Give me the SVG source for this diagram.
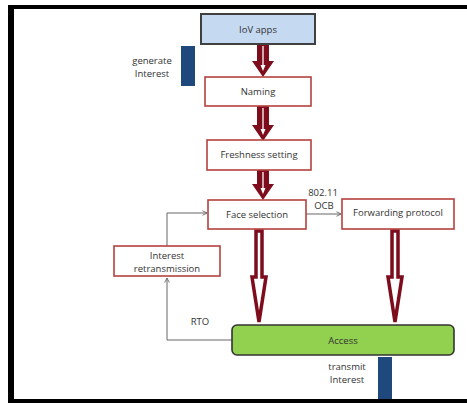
<svg xmlns="http://www.w3.org/2000/svg" width="467" height="403" viewBox="0 0 467 403">
<style>
text{font-family:"Open Sans","Liberation Sans",sans-serif;font-size:9.5px;fill:#333;text-anchor:middle}
.rbox{fill:#fff;stroke:#b5413f;stroke-width:1.6}
.fat{fill:#7d0d1c}
.inner{fill:none;stroke:#fff;stroke-width:1.3}
.tip{fill:#fff}
.big{fill:#fff;stroke:#7d0d1c;stroke-width:3.5;stroke-linejoin:miter}
.thin{fill:none;stroke:#666;stroke-width:1}
.bar{fill:#1f497d}
</style>
<defs>
<marker id="ah" viewBox="0 0 8 8" refX="7" refY="4" markerWidth="6" markerHeight="6" orient="auto" markerUnits="userSpaceOnUse">
<path d="M1,1 L7,4 L1,7" fill="none" stroke="#666" stroke-width="1.2"/>
</marker>
</defs>
<rect width="467" height="403" fill="#fff"/>
<g id="frame">
<rect x="8" y="5" width="459" height="4" fill="#000"/>
<rect x="8" y="5" width="6" height="398" fill="#000"/>
<rect x="8" y="399" width="459" height="4" fill="#000"/>
</g>
<g id="connectors">
<path class="fat" d="M257,44 L269,44 L269,61 L274,61 L263,77 L252,61 L257,61 Z"/>
<path class="inner" d="M263,46 L263,66"/>
<path class="tip" d="M260.5,65 L265.5,65 L263,71 Z"/>
<path class="fat" d="M257,106 L269,106 L269,125 L274,125 L263,141 L252,125 L257,125 Z"/>
<path class="inner" d="M263,108 L263,130"/>
<path class="tip" d="M260.5,129 L265.5,129 L263,135 Z"/>
<path class="fat" d="M257,170 L269,170 L269,184 L274,184 L263,200 L252,184 L257,184 Z"/>
<path class="inner" d="M263,172 L263,189"/>
<path class="tip" d="M260.5,188 L265.5,188 L263,194 Z"/>
<path class="big" d="M256,231 L262,231 L262,277 L266,277 L259,322 L252,277 L256,277 Z"/>
<path class="big" d="M392,231 L398,231 L398,277 L402,277 L395,322 L388,277 L392,277 Z"/>
<path class="thin" d="M306,214 L341,214" marker-end="url(#ah)"/>
<path class="thin" d="M167,246 L167,213 L207,213" marker-end="url(#ah)"/>
<path class="thin" d="M232,340 L167,340 L167,278" marker-end="url(#ah)"/>
<text x="323" y="196">802.11</text>
<text x="324" y="209">OCB</text>
<text x="200" y="325">RTO</text>
</g>
<g id="iov">
<rect x="201" y="14" width="114" height="30" fill="#c5d9f1" stroke="#404040" stroke-width="2"/>
<text x="258" y="33">IoV apps</text>
</g>
<g id="generate">
<rect class="bar" x="181" y="46" width="14" height="40"/>
<text x="152" y="64">generate</text>
<text x="152" y="77">Interest</text>
</g>
<g id="naming">
<rect class="rbox" x="205" y="77" width="106" height="29"/>
<text x="258" y="95">Naming</text>
</g>
<g id="freshness">
<rect class="rbox" x="207" y="140" width="104" height="30"/>
<text x="259" y="158">Freshness setting</text>
</g>
<g id="face">
<rect class="rbox" x="208" y="200" width="98" height="29"/>
<text x="257" y="218">Face selection</text>
</g>
<g id="forwarding">
<rect class="rbox" x="342" y="199" width="112" height="30"/>
<text x="398" y="216">Forwarding protocol</text>
</g>
<g id="retrans">
<rect class="rbox" x="114" y="246" width="106" height="30"/>
<text x="167" y="259">Interest</text>
<text x="167" y="272">retransmission</text>
</g>
<g id="access">
<rect x="232" y="325" width="222" height="30" rx="5" fill="#92d050" stroke="#333" stroke-width="1.6"/>
<text x="343" y="344">Access</text>
</g>
<g id="transmit">
<rect class="bar" x="378" y="357" width="14" height="42"/>
<text x="347" y="370">transmit</text>
<text x="347" y="383">Interest</text>
</g>
</svg>
